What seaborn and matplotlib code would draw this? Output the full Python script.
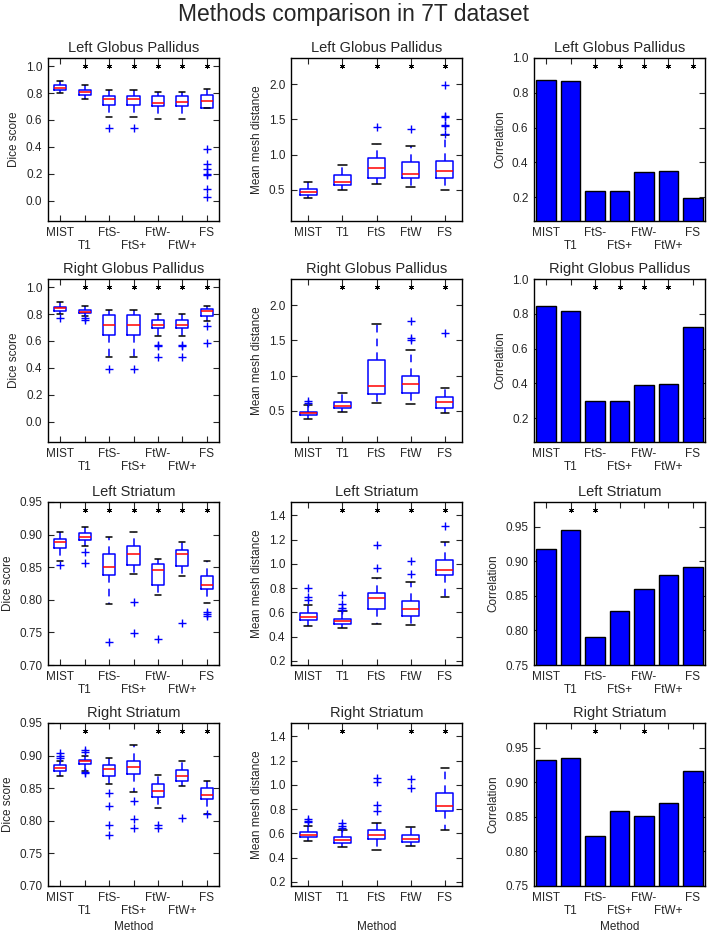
import matplotlib
matplotlib.use("Agg")
import matplotlib.pyplot as plt
import matplotlib.transforms as mtransforms
from matplotlib.ticker import MultipleLocator
import pandas as pd
import seaborn as sns

methods7 = ["MIST", "T1", "FtS-", "FtS+", "FtW-", "FtW+", "FS"]
methods5 = ["MIST", "T1", "FtS", "FtW", "FS"]
structures = ["Left Globus Pallidus", "Right Globus Pallidus", "Left Striatum", "Right Striatum"]

# box summaries per method: (whisker low, Q1, median, Q3, whisker high)
dice_lgp = [(0.800, 0.820, 0.835, 0.857, 0.890), (0.758, 0.783, 0.810, 0.823, 0.860),
            (0.620, 0.709, 0.756, 0.780, 0.820), (0.620, 0.709, 0.757, 0.780, 0.822),
            (0.608, 0.700, 0.729, 0.775, 0.805), (0.608, 0.700, 0.730, 0.775, 0.805),
            (0.692, 0.692, 0.744, 0.786, 0.833)]
dice_lgp_out = [[], [], [0.544], [0.544], [], [], [0.387, 0.271, 0.234, 0.197, 0.190, 0.089, 0.027]]

dice_rgp = [(0.803, 0.823, 0.843, 0.855, 0.892), (0.786, 0.806, 0.818, 0.833, 0.857),
            (0.479, 0.644, 0.715, 0.791, 0.828), (0.479, 0.644, 0.715, 0.791, 0.828),
            (0.634, 0.695, 0.722, 0.754, 0.801), (0.634, 0.695, 0.722, 0.754, 0.801),
            (0.747, 0.786, 0.820, 0.835, 0.860)]
dice_rgp_out = [[0.767], [0.771, 0.759], [0.393], [0.393], [0.572, 0.565, 0.479],
                [0.572, 0.565, 0.479], [0.713, 0.585]]

dice_lstr = [(0.859, 0.879, 0.889, 0.893, 0.904), (0.883, 0.892, 0.897, 0.902, 0.911),
             (0.793, 0.838, 0.850, 0.870, 0.897), (0.840, 0.854, 0.870, 0.883, 0.904),
             (0.807, 0.823, 0.846, 0.855, 0.862), (0.836, 0.852, 0.871, 0.877, 0.888),
             (0.795, 0.816, 0.823, 0.837, 0.860)]
dice_lstr_out = [[0.853], [0.874, 0.857], [0.735], [0.797, 0.749], [0.740], [0.765],
                 [0.781, 0.778, 0.775]]

dice_rstr = [(0.869, 0.876, 0.881, 0.885, 0.891), (0.877, 0.887, 0.891, 0.894, 0.900),
             (0.856, 0.868, 0.880, 0.886, 0.896), (0.844, 0.872, 0.883, 0.892, 0.917),
             (0.819, 0.836, 0.846, 0.857, 0.871), (0.853, 0.861, 0.868, 0.878, 0.892),
             (0.811, 0.834, 0.840, 0.851, 0.861)]
dice_rstr_out = [[0.904, 0.900, 0.897], [0.909, 0.905, 0.875, 0.874], [0.842, 0.823, 0.793, 0.778],
                 [0.830, 0.803, 0.789], [0.794, 0.789], [0.805], [0.810]]

mesh_lgp = [(0.387, 0.425, 0.467, 0.519, 0.608), (0.495, 0.566, 0.608, 0.706, 0.847),
            (0.584, 0.673, 0.814, 0.950, 1.147), (0.547, 0.673, 0.730, 0.903, 1.124),
            (0.500, 0.673, 0.763, 0.913, 1.278)]
mesh_lgp_out = [[], [], [1.386], [1.363], [1.99, 1.55, 1.53, 1.42, 1.40, 1.29]]

mesh_rgp = [(0.383, 0.440, 0.470, 0.490, 0.580), (0.490, 0.542, 0.575, 0.631, 0.748),
            (0.613, 0.734, 0.847, 1.227, 1.733), (0.594, 0.748, 0.884, 0.992, 1.358),
            (0.472, 0.538, 0.627, 0.697, 0.828)]
mesh_rgp_out = [[0.64, 0.61], [], [], [1.78, 1.536, 1.508], [1.611]]

mesh_lstr = [(0.484, 0.536, 0.564, 0.596, 0.657), (0.471, 0.503, 0.525, 0.544, 0.607),
             (0.506, 0.629, 0.714, 0.758, 0.881), (0.498, 0.569, 0.629, 0.692, 0.851),
             (0.722, 0.905, 0.949, 1.031, 1.184)]
mesh_lstr_out = [[0.804, 0.730, 0.703], [0.741, 0.665, 0.635, 0.621], [1.157, 0.963],
                 [1.026, 0.919], [1.313]]

mesh_rstr = [(0.533, 0.571, 0.587, 0.614, 0.661), (0.486, 0.516, 0.546, 0.571, 0.628),
             (0.459, 0.555, 0.582, 0.628, 0.683), (0.497, 0.530, 0.552, 0.585, 0.655),
             (0.625, 0.781, 0.822, 0.936, 1.138)]
mesh_rstr_out = [[0.718, 0.702, 0.691], [0.683, 0.661, 0.645], [1.056, 1.026, 0.833, 0.784],
                 [1.051, 0.972], []]

corr_lgp = [0.871, 0.870, 0.235, 0.236, 0.344, 0.350, 0.194]
corr_rgp = [0.845, 0.818, 0.296, 0.300, 0.388, 0.396, 0.726]
corr_lstr = [0.918, 0.946, 0.790, 0.828, 0.860, 0.880, 0.892]
corr_rstr = [0.932, 0.935, 0.822, 0.859, 0.851, 0.870, 0.917]

# methods marked with a star (significant difference)
dice_stars = [methods7[1:], methods7[1:], methods7[1:], ["T1", "FtW-", "FtW+", "FS"]]
mesh_stars = [["T1", "FtS", "FtW", "FS"], ["T1", "FtS", "FtW", "FS"],
              ["T1", "FtS", "FtW", "FS"], ["T1", "FtW", "FS"]]
corr_stars = [["FtS-", "FtS+", "FtW-", "FtW+", "FS"], ["FtS-", "FtS+", "FtW-", "FtW+"],
              ["T1", "FtS-"], ["FtS-", "FtW-"]]

dice = [dice_lgp, dice_rgp, dice_lstr, dice_rstr]
dice_out = [dice_lgp_out, dice_rgp_out, dice_lstr_out, dice_rstr_out]
mesh = [mesh_lgp, mesh_rgp, mesh_lstr, mesh_rstr]
mesh_out = [mesh_lgp_out, mesh_rgp_out, mesh_lstr_out, mesh_rstr_out]
corr = [corr_lgp, corr_rgp, corr_lstr, corr_rstr]

sns.set_style("ticks", {"xtick.direction": "in", "ytick.direction": "in"})
plt.rcParams['font.family'] = ['Liberation Sans', 'DejaVu Sans']
plt.rcParams['font.size'] = 8.5
plt.rcParams['axes.linewidth'] = 1.0


def stats_from(boxes, outliers):
    st = []
    for (lo, q1, med, q3, hi), fl in zip(boxes, outliers):
        st.append({"whislo": lo, "q1": q1, "med": med, "q3": q3, "whishi": hi, "fliers": fl})
    return st


def draw_boxes(ax, boxes, outliers):
    ax.bxp(stats_from(boxes, outliers), positions=range(len(boxes)), widths=0.5,
           boxprops=dict(color="b", lw=1.1),
           whiskerprops=dict(color="b", lw=1.1, linestyle=(0, (5, 4))),
           capprops=dict(color="k", lw=1.1),
           medianprops=dict(color="r", lw=1.1),
           flierprops=dict(marker="+", markeredgecolor="b", markersize=6, linestyle="none"),
           manage_ticks=False)
    ax.set_xlim(-0.5, len(boxes) - 0.5)


def add_stars(ax, names, starred):
    tr = mtransforms.blended_transform_factory(ax.transData, ax.transAxes)
    for i, m in enumerate(names):
        if m in starred:
            ax.plot(i, 0.952, marker=(6, 2, 0), ms=3.6, mew=0.6, color="k",
                    transform=tr, clip_on=False)


def finish(ax, names, stagger):
    ax.set_xticks(range(len(names)))
    if stagger:
        ax.set_xticklabels([m if i % 2 == 0 else "\n" + m for i, m in enumerate(names)])
    else:
        ax.set_xticklabels(names)
    ax.tick_params(top=True, right=True, length=4, width=0.8, labelsize=8.5, pad=4)
    for sp in ax.spines.values():
        sp.set_visible(True)
        sp.set_color("k")


W, H = 708, 934
fig = plt.figure(figsize=(W / 100, H / 100), dpi=100)
fig.text(0.5, 1 - 15 / H, "Methods comparison in 7T dataset", ha="center", va="center", fontsize=16.5)

lefts = [48, 291, 534]
tops = [58, 279, 502, 723]
aw, ah = 171, 163

for r in range(4):
    gp = r < 2
    axes = [fig.add_axes([lefts[c] / W, 1 - (tops[r] + ah) / H, aw / W, ah / H]) for c in range(3)]

    # dice score
    ax = axes[0]
    draw_boxes(ax, dice[r], dice_out[r])
    if gp:
        ax.set_ylim(-0.15, 1.06)
        ax.yaxis.set_major_locator(MultipleLocator(0.2))
    else:
        ax.set_ylim(0.70, 0.95)
        ax.yaxis.set_major_locator(MultipleLocator(0.05))
    ax.set_ylabel("Dice score")
    finish(ax, methods7, True)
    add_stars(ax, methods7, dice_stars[r])

    # mean mesh distance
    ax = axes[1]
    draw_boxes(ax, mesh[r], mesh_out[r])
    if gp:
        ax.set_ylim(0.06, 2.37)
        ax.yaxis.set_major_locator(MultipleLocator(0.5))
    else:
        ax.set_ylim(0.165, 1.51)
        ax.yaxis.set_major_locator(MultipleLocator(0.2))
    ax.set_ylabel("Mean mesh distance")
    finish(ax, methods5, False)
    add_stars(ax, methods5, mesh_stars[r])

    # correlation
    ax = axes[2]
    df = pd.DataFrame({"method": methods7, "corr": corr[r]})
    sns.barplot(data=df, x="method", y="corr", ax=ax, color="#0000ff", saturation=1,
                edgecolor="k", linewidth=1.0, width=0.8)
    if gp:
        ax.set_ylim(0.063, 1.0)
        ax.yaxis.set_major_locator(MultipleLocator(0.2))
    else:
        ax.set_ylim(0.75, 0.986)
        ax.yaxis.set_major_locator(MultipleLocator(0.05))
    ax.set_xlim(-0.5, 6.5)
    ax.set_ylabel("Correlation")
    ax.set_xlabel("")
    finish(ax, methods7, True)
    add_stars(ax, methods7, corr_stars[r])

    for ax in axes:
        ax.set_title(structures[r], fontsize=10.5, pad=4)
        if r == 3:
            ax.set_xlabel("Method", fontsize=8.5)
            ax.xaxis.set_label_coords(0.5, -0.215)
        else:
            ax.set_xlabel("")

fig.savefig("out.png", dpi=100)
